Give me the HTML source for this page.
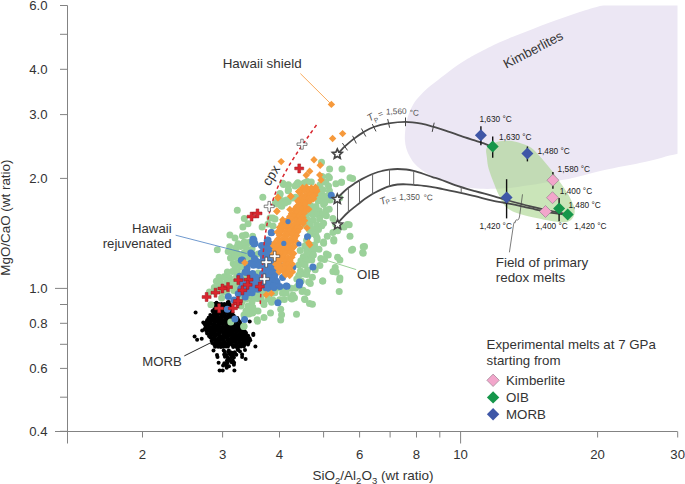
<!DOCTYPE html>
<html><head><meta charset="utf-8"><style>
html,body{margin:0;padding:0;background:#fff;}
body{width:685px;height:484px;overflow:hidden;font-family:"Liberation Sans", sans-serif;}
svg{display:block;}
</style></head><body>
<svg width="685" height="484" viewBox="0 0 685 484">
<defs><clipPath id="plot"><rect x="67.5" y="5.5" width="610" height="426"/></clipPath></defs>
<g clip-path="url(#plot)">
<path d="M404.9,140.0 C404.7,137.1 404.9,133.9 405.2,130.7 C405.5,127.5 406.0,123.7 406.7,120.6 C407.4,117.5 408.4,114.8 409.6,111.9 C410.8,109.0 412.2,105.9 413.9,103.2 C415.6,100.5 417.5,98.4 419.7,96.0 C421.9,93.6 424.5,91.0 426.9,88.8 C429.3,86.6 431.7,84.9 434.1,83.0 C436.5,81.1 438.9,79.1 441.4,77.2 C443.9,75.3 446.3,73.5 449.0,71.5 C451.7,69.5 454.6,67.2 457.8,65.1 C461.0,62.9 464.6,60.7 468.0,58.6 C471.4,56.5 473.3,55.4 478.5,52.7 C483.7,50.0 492.2,45.5 499.1,42.4 C506.0,39.3 511.8,37.3 520.0,34.1 C528.2,30.9 538.5,26.6 548.3,23.0 C558.1,19.4 569.8,15.3 579.0,12.3 C588.2,9.3 593.3,7.9 603.5,5.0 C613.7,2.1 623.9,-1.7 640.0,-5.0 C656.1,-8.3 685.0,-25.8 700.0,-15.0 C715.0,-4.2 726.7,32.8 730.0,60.0 C733.3,87.2 728.7,132.4 720.0,148.0 C711.3,163.6 690.4,151.4 678.0,153.7 C665.6,156.0 658.2,159.1 645.8,161.8 C633.4,164.6 615.3,167.6 603.5,170.2 C591.7,172.8 582.2,175.8 575.0,177.5 C567.8,179.2 565.3,179.4 560.0,180.3 C554.7,181.2 548.5,182.0 543.0,182.9 C537.5,183.8 532.2,184.8 527.0,185.6 C521.8,186.4 517.3,187.3 512.0,187.8 C506.7,188.3 500.3,188.6 495.0,188.8 C489.7,189.0 484.6,189.0 480.0,188.8 C475.4,188.6 471.7,188.2 467.2,187.5 C462.7,186.8 457.6,185.9 452.8,184.4 C448.0,182.9 442.4,180.3 438.3,178.6 C434.2,176.9 431.0,175.6 428.0,174.0 C425.0,172.4 422.8,170.8 420.5,169.0 C418.2,167.2 415.9,165.3 414.0,163.0 C412.1,160.7 410.3,157.5 409.0,155.0 C407.7,152.5 406.9,150.5 406.2,148.0 C405.5,145.5 405.1,142.9 404.9,140.0Z" fill="#ece7f4"/>
<path d="M486.9,147.7 C488.7,145.1 493.9,143.0 497.7,141.8 C501.5,140.7 505.9,140.6 509.5,140.8 C513.1,141.0 515.7,141.7 519.3,142.8 C522.9,144.0 527.5,145.2 531.1,147.7 C534.7,150.1 537.6,153.9 540.9,157.5 C544.2,161.1 547.4,165.1 550.7,169.3 C554.0,173.6 557.7,178.8 560.6,183.0 C563.5,187.2 566.2,190.9 568.4,194.8 C570.6,198.7 572.9,203.3 573.9,206.6 C574.9,209.9 574.9,212.2 574.3,214.5 C573.7,216.8 572.4,219.1 570.4,220.4 C568.4,221.7 566.1,222.3 562.5,222.3 C558.9,222.3 554.4,221.4 548.8,220.4 C543.2,219.4 534.7,217.7 529.1,216.4 C523.5,215.1 519.3,214.1 515.4,212.5 C511.5,210.9 508.3,209.5 505.5,206.6 C502.7,203.7 500.6,198.7 498.7,194.8 C496.8,190.9 495.4,187.2 493.8,183.0 C492.2,178.8 490.0,173.6 488.8,169.3 C487.6,165.1 487.2,161.1 486.9,157.5 C486.6,153.9 485.1,150.3 486.9,147.7Z" fill="#a6d48a" fill-opacity="0.6"/>
</g>
<g stroke="#838383" stroke-width="1" fill="none">
<line x1="67.5" y1="5.5" x2="67.5" y2="443.5"/>
<line x1="55" y1="431.5" x2="677.5" y2="431.5"/>
<line x1="60.0" y1="5.5" x2="67.5" y2="5.5"/>
<line x1="60.0" y1="34.3" x2="67.5" y2="34.3"/>
<line x1="60.0" y1="69.3" x2="67.5" y2="69.3"/>
<line x1="60.0" y1="114.6" x2="67.5" y2="114.6"/>
<line x1="60.0" y1="178.4" x2="67.5" y2="178.4"/>
<line x1="55.0" y1="288.4" x2="67.5" y2="288.4"/>
<line x1="60.0" y1="304.5" x2="67.5" y2="304.5"/>
<line x1="60.0" y1="323.3" x2="67.5" y2="323.3"/>
<line x1="60.0" y1="344.3" x2="67.5" y2="344.3"/>
<line x1="60.0" y1="368.4" x2="67.5" y2="368.4"/>
<line x1="60.0" y1="397.2" x2="67.5" y2="397.2"/>
<line x1="60.0" y1="431.3" x2="67.5" y2="431.3"/>
<line x1="142.5" y1="431.5" x2="142.5" y2="437.5"/>
<line x1="222.6" y1="431.5" x2="222.6" y2="437.5"/>
<line x1="279.5" y1="431.5" x2="279.5" y2="437.5"/>
<line x1="323.6" y1="431.5" x2="323.6" y2="437.5"/>
<line x1="359.6" y1="431.5" x2="359.6" y2="437.5"/>
<line x1="390.1" y1="431.5" x2="390.1" y2="437.5"/>
<line x1="416.5" y1="431.5" x2="416.5" y2="437.5"/>
<line x1="439.8" y1="431.5" x2="439.8" y2="437.5"/>
<line x1="460.6" y1="431.5" x2="460.6" y2="443.5"/>
<line x1="597.6" y1="431.5" x2="597.6" y2="437.5"/>
<line x1="677.7" y1="431.5" x2="677.7" y2="437.5"/>
</g>
<g font-family='"Liberation Sans", sans-serif' font-size="13.2" fill="#333" text-anchor="end">
<text x="47.5" y="10.1">6.0</text>
<text x="47.5" y="73.9">4.0</text>
<text x="47.5" y="119.2">3.0</text>
<text x="47.5" y="183.0">2.0</text>
<text x="47.5" y="293.0">1.0</text>
<text x="47.5" y="327.9">0.8</text>
<text x="47.5" y="373.0">0.6</text>
<text x="47.5" y="435.9">0.4</text>
</g>
<g font-family='"Liberation Sans", sans-serif' font-size="13.2" fill="#333" text-anchor="middle">
<text x="142.5" y="459.2">2</text>
<text x="222.6" y="459.2">3</text>
<text x="279.5" y="459.2">4</text>
<text x="359.6" y="459.2">6</text>
<text x="416.5" y="459.2">8</text>
<text x="460.6" y="459.2">10</text>
<text x="597.6" y="459.2">20</text>
<text x="677.7" y="459.2">30</text>
</g>
<text x="312.5" y="480.2" font-family='"Liberation Sans", sans-serif' font-size="13.5" fill="#333">SiO<tspan font-size="9.5" dy="3.8">2</tspan><tspan dy="-3.8">/Al</tspan><tspan font-size="9.5" dy="3.8">2</tspan><tspan dy="-3.8">O</tspan><tspan font-size="9.5" dy="3.8">3</tspan><tspan dy="-3.8"> (wt ratio)</tspan></text>
<text transform="translate(10.2,217.6) rotate(-90)" text-anchor="middle" font-family='"Liberation Sans", sans-serif' font-size="13.4" fill="#333">MgO/CaO (wt ratio)</text>
<g fill="#000">
<circle cx="228.8" cy="302.0" r="2"/>
<circle cx="214.3" cy="303.9" r="2"/>
<circle cx="216.4" cy="303.6" r="2"/>
<circle cx="218.8" cy="304.1" r="2"/>
<circle cx="221.5" cy="304.1" r="2"/>
<circle cx="224.3" cy="304.0" r="2"/>
<circle cx="227.5" cy="304.0" r="2"/>
<circle cx="229.7" cy="304.4" r="2"/>
<circle cx="215.4" cy="306.1" r="2"/>
<circle cx="218.3" cy="306.0" r="2"/>
<circle cx="220.0" cy="306.1" r="2"/>
<circle cx="223.0" cy="305.8" r="2"/>
<circle cx="225.4" cy="306.2" r="2"/>
<circle cx="228.4" cy="305.9" r="2"/>
<circle cx="230.8" cy="306.7" r="2"/>
<circle cx="214.4" cy="308.9" r="2"/>
<circle cx="216.5" cy="308.8" r="2"/>
<circle cx="219.6" cy="308.6" r="2"/>
<circle cx="221.9" cy="308.4" r="2"/>
<circle cx="224.5" cy="308.7" r="2"/>
<circle cx="226.6" cy="308.7" r="2"/>
<circle cx="230.1" cy="308.9" r="2"/>
<circle cx="212.5" cy="311.0" r="2"/>
<circle cx="215.0" cy="310.7" r="2"/>
<circle cx="218.2" cy="311.2" r="2"/>
<circle cx="220.9" cy="310.7" r="2"/>
<circle cx="223.2" cy="310.6" r="2"/>
<circle cx="225.3" cy="310.8" r="2"/>
<circle cx="228.6" cy="311.2" r="2"/>
<circle cx="231.1" cy="311.3" r="2"/>
<circle cx="213.6" cy="312.6" r="2"/>
<circle cx="216.7" cy="313.0" r="2"/>
<circle cx="219.3" cy="313.2" r="2"/>
<circle cx="222.1" cy="313.5" r="2"/>
<circle cx="224.6" cy="312.8" r="2"/>
<circle cx="227.0" cy="312.8" r="2"/>
<circle cx="229.1" cy="313.0" r="2"/>
<circle cx="232.4" cy="312.8" r="2"/>
<circle cx="210.3" cy="315.0" r="2"/>
<circle cx="212.9" cy="315.7" r="2"/>
<circle cx="215.4" cy="315.6" r="2"/>
<circle cx="217.6" cy="315.7" r="2"/>
<circle cx="221.0" cy="315.8" r="2"/>
<circle cx="223.1" cy="315.6" r="2"/>
<circle cx="225.5" cy="315.7" r="2"/>
<circle cx="228.7" cy="315.2" r="2"/>
<circle cx="230.5" cy="315.3" r="2"/>
<circle cx="233.6" cy="315.6" r="2"/>
<circle cx="208.6" cy="317.8" r="2"/>
<circle cx="211.5" cy="317.6" r="2"/>
<circle cx="214.3" cy="317.7" r="2"/>
<circle cx="216.4" cy="317.5" r="2"/>
<circle cx="219.5" cy="318.0" r="2"/>
<circle cx="221.5" cy="317.9" r="2"/>
<circle cx="224.9" cy="317.6" r="2"/>
<circle cx="227.1" cy="317.3" r="2"/>
<circle cx="229.6" cy="317.6" r="2"/>
<circle cx="232.3" cy="317.1" r="2"/>
<circle cx="235.3" cy="317.6" r="2"/>
<circle cx="237.3" cy="317.9" r="2"/>
<circle cx="207.2" cy="320.0" r="2"/>
<circle cx="210.5" cy="319.5" r="2"/>
<circle cx="213.0" cy="319.4" r="2"/>
<circle cx="215.0" cy="319.6" r="2"/>
<circle cx="218.1" cy="319.7" r="2"/>
<circle cx="220.4" cy="320.0" r="2"/>
<circle cx="222.7" cy="320.1" r="2"/>
<circle cx="225.3" cy="319.9" r="2"/>
<circle cx="228.1" cy="319.6" r="2"/>
<circle cx="230.9" cy="319.8" r="2"/>
<circle cx="233.4" cy="319.8" r="2"/>
<circle cx="236.1" cy="319.5" r="2"/>
<circle cx="238.4" cy="320.0" r="2"/>
<circle cx="203.3" cy="322.6" r="2"/>
<circle cx="206.6" cy="321.8" r="2"/>
<circle cx="208.5" cy="322.3" r="2"/>
<circle cx="211.2" cy="321.7" r="2"/>
<circle cx="214.3" cy="322.0" r="2"/>
<circle cx="216.9" cy="321.7" r="2"/>
<circle cx="219.1" cy="322.3" r="2"/>
<circle cx="221.3" cy="321.8" r="2"/>
<circle cx="224.6" cy="322.5" r="2"/>
<circle cx="227.5" cy="321.7" r="2"/>
<circle cx="229.6" cy="322.4" r="2"/>
<circle cx="232.2" cy="322.3" r="2"/>
<circle cx="234.5" cy="321.7" r="2"/>
<circle cx="237.0" cy="321.7" r="2"/>
<circle cx="240.1" cy="322.1" r="2"/>
<circle cx="204.7" cy="324.3" r="2"/>
<circle cx="207.5" cy="324.3" r="2"/>
<circle cx="210.2" cy="323.9" r="2"/>
<circle cx="212.9" cy="324.7" r="2"/>
<circle cx="215.0" cy="324.3" r="2"/>
<circle cx="218.1" cy="324.3" r="2"/>
<circle cx="220.2" cy="324.0" r="2"/>
<circle cx="223.1" cy="323.9" r="2"/>
<circle cx="226.1" cy="324.7" r="2"/>
<circle cx="228.5" cy="324.7" r="2"/>
<circle cx="231.0" cy="324.3" r="2"/>
<circle cx="233.6" cy="324.4" r="2"/>
<circle cx="236.6" cy="324.7" r="2"/>
<circle cx="238.5" cy="324.8" r="2"/>
<circle cx="241.5" cy="324.7" r="2"/>
<circle cx="205.7" cy="326.5" r="2"/>
<circle cx="208.9" cy="326.8" r="2"/>
<circle cx="211.1" cy="327.1" r="2"/>
<circle cx="214.2" cy="326.5" r="2"/>
<circle cx="216.8" cy="326.7" r="2"/>
<circle cx="219.2" cy="326.5" r="2"/>
<circle cx="222.3" cy="326.8" r="2"/>
<circle cx="224.6" cy="326.9" r="2"/>
<circle cx="227.5" cy="326.2" r="2"/>
<circle cx="229.7" cy="326.9" r="2"/>
<circle cx="232.0" cy="326.5" r="2"/>
<circle cx="234.4" cy="326.3" r="2"/>
<circle cx="237.3" cy="326.2" r="2"/>
<circle cx="239.8" cy="327.0" r="2"/>
<circle cx="242.7" cy="326.7" r="2"/>
<circle cx="204.6" cy="328.9" r="2"/>
<circle cx="207.2" cy="328.9" r="2"/>
<circle cx="210.2" cy="328.5" r="2"/>
<circle cx="213.1" cy="328.8" r="2"/>
<circle cx="215.3" cy="329.0" r="2"/>
<circle cx="217.8" cy="328.7" r="2"/>
<circle cx="220.7" cy="329.0" r="2"/>
<circle cx="222.9" cy="329.1" r="2"/>
<circle cx="225.5" cy="328.4" r="2"/>
<circle cx="228.0" cy="328.4" r="2"/>
<circle cx="230.6" cy="329.2" r="2"/>
<circle cx="233.4" cy="329.3" r="2"/>
<circle cx="236.3" cy="328.5" r="2"/>
<circle cx="239.2" cy="329.4" r="2"/>
<circle cx="240.9" cy="329.3" r="2"/>
<circle cx="243.8" cy="328.9" r="2"/>
<circle cx="206.3" cy="331.1" r="2"/>
<circle cx="208.5" cy="330.7" r="2"/>
<circle cx="211.4" cy="330.8" r="2"/>
<circle cx="213.9" cy="331.3" r="2"/>
<circle cx="216.6" cy="330.9" r="2"/>
<circle cx="219.3" cy="331.1" r="2"/>
<circle cx="222.1" cy="331.2" r="2"/>
<circle cx="224.9" cy="331.6" r="2"/>
<circle cx="227.2" cy="330.9" r="2"/>
<circle cx="229.2" cy="331.6" r="2"/>
<circle cx="232.5" cy="331.3" r="2"/>
<circle cx="234.7" cy="330.9" r="2"/>
<circle cx="237.6" cy="331.2" r="2"/>
<circle cx="240.1" cy="331.3" r="2"/>
<circle cx="242.9" cy="330.9" r="2"/>
<circle cx="244.9" cy="331.6" r="2"/>
<circle cx="207.1" cy="333.6" r="2"/>
<circle cx="210.2" cy="333.6" r="2"/>
<circle cx="212.6" cy="333.4" r="2"/>
<circle cx="215.0" cy="333.3" r="2"/>
<circle cx="218.1" cy="333.8" r="2"/>
<circle cx="220.1" cy="333.0" r="2"/>
<circle cx="223.4" cy="333.6" r="2"/>
<circle cx="226.0" cy="333.1" r="2"/>
<circle cx="228.2" cy="333.2" r="2"/>
<circle cx="231.2" cy="333.3" r="2"/>
<circle cx="233.7" cy="333.9" r="2"/>
<circle cx="235.9" cy="333.5" r="2"/>
<circle cx="238.9" cy="333.9" r="2"/>
<circle cx="241.2" cy="333.3" r="2"/>
<circle cx="243.5" cy="333.8" r="2"/>
<circle cx="246.1" cy="333.0" r="2"/>
<circle cx="209.0" cy="335.9" r="2"/>
<circle cx="211.2" cy="335.3" r="2"/>
<circle cx="213.9" cy="335.9" r="2"/>
<circle cx="216.5" cy="335.3" r="2"/>
<circle cx="219.4" cy="335.8" r="2"/>
<circle cx="222.2" cy="336.1" r="2"/>
<circle cx="224.8" cy="335.6" r="2"/>
<circle cx="227.3" cy="335.5" r="2"/>
<circle cx="229.4" cy="335.6" r="2"/>
<circle cx="232.6" cy="336.1" r="2"/>
<circle cx="234.5" cy="335.6" r="2"/>
<circle cx="237.3" cy="335.6" r="2"/>
<circle cx="239.9" cy="335.6" r="2"/>
<circle cx="242.3" cy="335.8" r="2"/>
<circle cx="245.5" cy="335.7" r="2"/>
<circle cx="248.1" cy="335.8" r="2"/>
<circle cx="210.4" cy="337.5" r="2"/>
<circle cx="212.7" cy="338.2" r="2"/>
<circle cx="214.9" cy="337.5" r="2"/>
<circle cx="218.1" cy="338.4" r="2"/>
<circle cx="220.1" cy="338.1" r="2"/>
<circle cx="222.7" cy="338.2" r="2"/>
<circle cx="225.8" cy="337.7" r="2"/>
<circle cx="228.0" cy="338.2" r="2"/>
<circle cx="230.9" cy="338.2" r="2"/>
<circle cx="233.4" cy="337.8" r="2"/>
<circle cx="236.6" cy="338.1" r="2"/>
<circle cx="238.7" cy="338.0" r="2"/>
<circle cx="241.5" cy="338.2" r="2"/>
<circle cx="244.3" cy="337.9" r="2"/>
<circle cx="246.8" cy="338.1" r="2"/>
<circle cx="249.5" cy="338.3" r="2"/>
<circle cx="211.6" cy="340.7" r="2"/>
<circle cx="213.9" cy="339.9" r="2"/>
<circle cx="216.3" cy="340.1" r="2"/>
<circle cx="219.0" cy="340.7" r="2"/>
<circle cx="221.4" cy="340.0" r="2"/>
<circle cx="224.0" cy="340.4" r="2"/>
<circle cx="227.3" cy="339.9" r="2"/>
<circle cx="229.2" cy="340.2" r="2"/>
<circle cx="232.3" cy="340.6" r="2"/>
<circle cx="234.3" cy="339.8" r="2"/>
<circle cx="237.1" cy="339.9" r="2"/>
<circle cx="239.7" cy="340.4" r="2"/>
<circle cx="242.7" cy="339.9" r="2"/>
<circle cx="244.9" cy="340.0" r="2"/>
<circle cx="247.5" cy="340.5" r="2"/>
<circle cx="250.2" cy="340.3" r="2"/>
<circle cx="212.2" cy="342.9" r="2"/>
<circle cx="215.6" cy="342.4" r="2"/>
<circle cx="217.9" cy="342.5" r="2"/>
<circle cx="220.3" cy="343.0" r="2"/>
<circle cx="223.3" cy="342.2" r="2"/>
<circle cx="225.2" cy="342.5" r="2"/>
<circle cx="228.2" cy="342.8" r="2"/>
<circle cx="231.1" cy="342.6" r="2"/>
<circle cx="233.2" cy="342.1" r="2"/>
<circle cx="235.9" cy="342.2" r="2"/>
<circle cx="239.1" cy="342.5" r="2"/>
<circle cx="241.4" cy="343.0" r="2"/>
<circle cx="243.7" cy="342.5" r="2"/>
<circle cx="246.2" cy="342.7" r="2"/>
<circle cx="248.6" cy="342.8" r="2"/>
<circle cx="214.3" cy="344.7" r="2"/>
<circle cx="217.0" cy="344.3" r="2"/>
<circle cx="219.5" cy="344.4" r="2"/>
<circle cx="221.8" cy="344.8" r="2"/>
<circle cx="224.1" cy="345.1" r="2"/>
<circle cx="226.8" cy="344.6" r="2"/>
<circle cx="229.2" cy="344.5" r="2"/>
<circle cx="232.2" cy="345.0" r="2"/>
<circle cx="234.7" cy="344.9" r="2"/>
<circle cx="237.0" cy="344.6" r="2"/>
<circle cx="240.0" cy="345.2" r="2"/>
<circle cx="242.9" cy="344.9" r="2"/>
<circle cx="244.7" cy="344.6" r="2"/>
<circle cx="248.0" cy="344.5" r="2"/>
<circle cx="215.1" cy="346.7" r="2"/>
<circle cx="218.1" cy="346.8" r="2"/>
<circle cx="220.9" cy="347.1" r="2"/>
<circle cx="223.3" cy="346.8" r="2"/>
<circle cx="226.0" cy="346.6" r="2"/>
<circle cx="227.9" cy="346.6" r="2"/>
<circle cx="233.2" cy="346.9" r="2"/>
<circle cx="236.4" cy="347.1" r="2"/>
<circle cx="238.3" cy="346.7" r="2"/>
<circle cx="241.0" cy="346.6" r="2"/>
<circle cx="243.8" cy="346.6" r="2"/>
<circle cx="237.9" cy="349.3" r="2"/>
<circle cx="224.9" cy="352.0" r="2"/>
<circle cx="228.3" cy="352.1" r="2"/>
<circle cx="231.2" cy="352.4" r="2"/>
<circle cx="234.8" cy="352.2" r="2"/>
<circle cx="226.3" cy="355.1" r="2"/>
<circle cx="229.4" cy="354.0" r="2"/>
<circle cx="233.1" cy="355.0" r="2"/>
<circle cx="236.3" cy="354.7" r="2"/>
<circle cx="224.9" cy="356.8" r="2"/>
<circle cx="227.5" cy="357.3" r="2"/>
<circle cx="231.2" cy="357.2" r="2"/>
<circle cx="233.9" cy="357.6" r="2"/>
<circle cx="226.9" cy="360.7" r="2"/>
<circle cx="229.8" cy="360.6" r="2"/>
<circle cx="232.7" cy="360.5" r="2"/>
<circle cx="224.3" cy="363.3" r="2"/>
<circle cx="227.5" cy="363.0" r="2"/>
<circle cx="231.7" cy="362.3" r="2"/>
<circle cx="234.1" cy="362.7" r="2"/>
<circle cx="223.1" cy="365.5" r="2"/>
<circle cx="226.5" cy="365.2" r="2"/>
<circle cx="229.0" cy="366.2" r="2"/>
<circle cx="216.5" cy="302.7" r="2"/>
<circle cx="227.8" cy="302.2" r="2"/>
<circle cx="195.6" cy="312.4" r="2"/>
<circle cx="249.7" cy="321.6" r="2"/>
<circle cx="253.3" cy="333.8" r="2"/>
<circle cx="194.6" cy="336.6" r="2"/>
<circle cx="197.1" cy="339.7" r="2"/>
<circle cx="201.7" cy="338.7" r="2"/>
<circle cx="202.2" cy="330.5" r="2"/>
<circle cx="255.4" cy="346.4" r="2"/>
<circle cx="253.3" cy="335.1" r="2"/>
<circle cx="217.0" cy="355.0" r="2"/>
<circle cx="217.5" cy="357.1" r="2"/>
<circle cx="224.2" cy="354.5" r="2"/>
<circle cx="232.4" cy="353.0" r="2"/>
<circle cx="230.8" cy="355.0" r="2"/>
<circle cx="242.1" cy="354.5" r="2"/>
<circle cx="245.6" cy="359.1" r="2"/>
<circle cx="218.6" cy="362.7" r="2"/>
<circle cx="228.3" cy="359.1" r="2"/>
<circle cx="232.9" cy="361.7" r="2"/>
<circle cx="225.7" cy="364.7" r="2"/>
<circle cx="233.9" cy="364.7" r="2"/>
<circle cx="219.6" cy="370.4" r="2"/>
<circle cx="222.7" cy="370.4" r="2"/>
<circle cx="226.7" cy="367.8" r="2"/>
<circle cx="234.4" cy="370.4" r="2"/>
<circle cx="242.1" cy="357.1" r="2"/>
<circle cx="240.0" cy="351.5" r="2"/>
<circle cx="213.5" cy="350.4" r="2"/>
<circle cx="223.7" cy="350.4" r="2"/>
<circle cx="228.8" cy="350.4" r="2"/>
<circle cx="238.0" cy="350.0" r="2"/>
<circle cx="245.0" cy="350.0" r="2"/>
</g>
<g fill="#9bd19a">
<circle cx="308.3" cy="189.9" r="3.5"/>
<circle cx="313.3" cy="190.4" r="3.5"/>
<circle cx="320.1" cy="190.1" r="3.5"/>
<circle cx="316.1" cy="195.3" r="3.5"/>
<circle cx="323.4" cy="196.1" r="3.5"/>
<circle cx="327.5" cy="196.1" r="3.5"/>
<circle cx="319.8" cy="200.1" r="3.5"/>
<circle cx="324.6" cy="201.3" r="3.5"/>
<circle cx="310.7" cy="205.6" r="3.5"/>
<circle cx="316.0" cy="206.4" r="3.5"/>
<circle cx="323.6" cy="204.4" r="3.5"/>
<circle cx="308.4" cy="209.6" r="3.5"/>
<circle cx="314.1" cy="210.7" r="3.5"/>
<circle cx="319.3" cy="210.7" r="3.5"/>
<circle cx="325.9" cy="210.4" r="3.5"/>
<circle cx="306.0" cy="215.3" r="3.5"/>
<circle cx="312.3" cy="214.4" r="3.5"/>
<circle cx="317.5" cy="214.4" r="3.5"/>
<circle cx="322.7" cy="214.6" r="3.5"/>
<circle cx="307.8" cy="220.1" r="3.5"/>
<circle cx="313.3" cy="220.3" r="3.5"/>
<circle cx="319.6" cy="219.0" r="3.5"/>
<circle cx="304.8" cy="224.1" r="3.5"/>
<circle cx="310.0" cy="225.0" r="3.5"/>
<circle cx="316.6" cy="224.8" r="3.5"/>
<circle cx="321.8" cy="225.7" r="3.5"/>
<circle cx="309.1" cy="229.2" r="3.5"/>
<circle cx="313.2" cy="229.4" r="3.5"/>
<circle cx="318.5" cy="229.4" r="3.5"/>
<circle cx="310.4" cy="234.1" r="3.5"/>
<circle cx="316.0" cy="235.2" r="3.5"/>
<circle cx="238.1" cy="243.7" r="3.5"/>
<circle cx="243.7" cy="243.5" r="3.5"/>
<circle cx="248.9" cy="242.5" r="3.5"/>
<circle cx="229.7" cy="246.7" r="3.5"/>
<circle cx="236.1" cy="247.4" r="3.5"/>
<circle cx="240.7" cy="246.6" r="3.5"/>
<circle cx="246.0" cy="247.2" r="3.5"/>
<circle cx="252.1" cy="248.8" r="3.5"/>
<circle cx="228.2" cy="251.5" r="3.5"/>
<circle cx="232.4" cy="252.3" r="3.5"/>
<circle cx="237.4" cy="253.5" r="3.5"/>
<circle cx="243.6" cy="253.3" r="3.5"/>
<circle cx="249.6" cy="251.5" r="3.5"/>
<circle cx="230.5" cy="257.9" r="3.5"/>
<circle cx="234.8" cy="256.8" r="3.5"/>
<circle cx="240.7" cy="258.0" r="3.5"/>
<circle cx="246.6" cy="257.2" r="3.5"/>
<circle cx="253.3" cy="256.8" r="3.5"/>
<circle cx="233.2" cy="263.4" r="3.5"/>
<circle cx="237.7" cy="262.8" r="3.5"/>
<circle cx="244.4" cy="263.5" r="3.5"/>
<circle cx="250.5" cy="261.7" r="3.5"/>
<circle cx="235.0" cy="266.3" r="3.5"/>
<circle cx="240.8" cy="267.0" r="3.5"/>
<circle cx="246.0" cy="267.4" r="3.5"/>
<circle cx="227.4" cy="272.0" r="3.5"/>
<circle cx="232.4" cy="271.5" r="3.5"/>
<circle cx="237.3" cy="271.7" r="3.5"/>
<circle cx="244.9" cy="272.3" r="3.5"/>
<circle cx="219.1" cy="277.3" r="3.5"/>
<circle cx="224.2" cy="276.8" r="3.5"/>
<circle cx="229.5" cy="277.8" r="3.5"/>
<circle cx="236.5" cy="276.7" r="3.5"/>
<circle cx="242.2" cy="275.9" r="3.5"/>
<circle cx="245.9" cy="277.0" r="3.5"/>
<circle cx="216.4" cy="281.2" r="3.5"/>
<circle cx="220.4" cy="282.0" r="3.5"/>
<circle cx="226.9" cy="281.2" r="3.5"/>
<circle cx="232.8" cy="282.2" r="3.5"/>
<circle cx="238.5" cy="282.1" r="3.5"/>
<circle cx="214.3" cy="287.5" r="3.5"/>
<circle cx="218.0" cy="287.0" r="3.5"/>
<circle cx="224.4" cy="286.9" r="3.5"/>
<circle cx="229.7" cy="286.2" r="3.5"/>
<circle cx="236.2" cy="286.8" r="3.5"/>
<circle cx="240.6" cy="286.1" r="3.5"/>
<circle cx="209.4" cy="292.1" r="3.5"/>
<circle cx="215.1" cy="291.5" r="3.5"/>
<circle cx="222.3" cy="291.5" r="3.5"/>
<circle cx="226.4" cy="292.5" r="3.5"/>
<circle cx="233.7" cy="290.5" r="3.5"/>
<circle cx="262.3" cy="289.5" r="3.5"/>
<circle cx="268.8" cy="288.6" r="3.5"/>
<circle cx="273.7" cy="289.0" r="3.5"/>
<circle cx="279.5" cy="288.0" r="3.5"/>
<circle cx="283.6" cy="287.9" r="3.5"/>
<circle cx="291.0" cy="288.3" r="3.5"/>
<circle cx="295.6" cy="288.0" r="3.5"/>
<circle cx="253.8" cy="292.9" r="3.5"/>
<circle cx="259.5" cy="293.2" r="3.5"/>
<circle cx="264.1" cy="293.7" r="3.5"/>
<circle cx="270.1" cy="293.2" r="3.5"/>
<circle cx="274.9" cy="292.7" r="3.5"/>
<circle cx="282.5" cy="293.3" r="3.5"/>
<circle cx="286.2" cy="293.0" r="3.5"/>
<circle cx="292.8" cy="294.9" r="3.5"/>
<circle cx="257.1" cy="298.4" r="3.5"/>
<circle cx="260.9" cy="298.7" r="3.5"/>
<circle cx="268.0" cy="298.9" r="3.5"/>
<circle cx="272.7" cy="299.7" r="3.5"/>
<circle cx="279.7" cy="299.8" r="3.5"/>
<circle cx="284.3" cy="299.4" r="3.5"/>
<circle cx="290.5" cy="297.8" r="3.5"/>
<circle cx="294.5" cy="297.8" r="3.5"/>
<circle cx="263.6" cy="302.8" r="3.5"/>
<circle cx="271.5" cy="302.3" r="3.5"/>
<circle cx="306.6" cy="240.3" r="3.5"/>
<circle cx="304.8" cy="245.9" r="3.5"/>
<circle cx="310.2" cy="245.0" r="3.5"/>
<circle cx="314.5" cy="244.9" r="3.5"/>
<circle cx="300.2" cy="250.6" r="3.5"/>
<circle cx="306.8" cy="250.2" r="3.5"/>
<circle cx="312.7" cy="251.7" r="3.5"/>
<circle cx="303.3" cy="256.7" r="3.5"/>
<circle cx="309.6" cy="256.6" r="3.5"/>
<circle cx="300.9" cy="260.8" r="3.5"/>
<circle cx="308.1" cy="259.9" r="3.5"/>
<circle cx="311.8" cy="260.0" r="3.5"/>
<circle cx="298.9" cy="264.9" r="3.5"/>
<circle cx="304.5" cy="264.5" r="3.5"/>
<circle cx="300.5" cy="270.9" r="3.5"/>
<circle cx="307.5" cy="270.0" r="3.5"/>
<circle cx="298.8" cy="275.2" r="3.5"/>
<circle cx="304.2" cy="273.9" r="3.5"/>
<circle cx="296.8" cy="279.0" r="3.5"/>
<circle cx="301.3" cy="281.0" r="3.5"/>
<circle cx="297.7" cy="285.9" r="3.5"/>
<circle cx="241.0" cy="297.0" r="3.5"/>
<circle cx="245.0" cy="296.0" r="3.5"/>
<circle cx="250.0" cy="296.0" r="3.5"/>
<circle cx="255.0" cy="298.0" r="3.5"/>
<circle cx="241.0" cy="306.0" r="3.5"/>
<circle cx="246.0" cy="299.0" r="3.5"/>
<circle cx="252.0" cy="309.0" r="3.5"/>
<circle cx="258.0" cy="311.0" r="3.5"/>
<circle cx="244.0" cy="315.0" r="3.5"/>
<circle cx="249.0" cy="314.0" r="3.5"/>
<circle cx="242.0" cy="302.0" r="3.5"/>
<circle cx="248.0" cy="306.0" r="3.5"/>
<circle cx="252.0" cy="302.0" r="3.5"/>
<circle cx="246.0" cy="311.0" r="3.5"/>
<circle cx="283.6" cy="184.4" r="3.5"/>
<circle cx="288.2" cy="185.3" r="3.5"/>
<circle cx="297.3" cy="184.4" r="3.5"/>
<circle cx="303.6" cy="183.5" r="3.5"/>
<circle cx="307.3" cy="181.6" r="3.5"/>
<circle cx="288.2" cy="190.7" r="3.5"/>
<circle cx="280.0" cy="193.5" r="3.5"/>
<circle cx="282.7" cy="200.7" r="3.5"/>
<circle cx="279.1" cy="202.5" r="3.5"/>
<circle cx="281.8" cy="206.2" r="3.5"/>
<circle cx="275.5" cy="202.5" r="3.5"/>
<circle cx="288.2" cy="201.6" r="3.5"/>
<circle cx="292.7" cy="198.0" r="3.5"/>
<circle cx="272.7" cy="218.0" r="3.5"/>
<circle cx="258.0" cy="254.0" r="3.5"/>
<circle cx="253.0" cy="261.0" r="3.5"/>
<circle cx="258.0" cy="273.0" r="3.5"/>
<circle cx="321.5" cy="162.2" r="3.5"/>
<circle cx="329.6" cy="169.0" r="3.5"/>
<circle cx="342.0" cy="169.0" r="3.5"/>
<circle cx="328.3" cy="176.4" r="3.5"/>
<circle cx="322.1" cy="176.4" r="3.5"/>
<circle cx="350.0" cy="177.7" r="3.5"/>
<circle cx="311.3" cy="181.9" r="3.5"/>
<circle cx="304.8" cy="182.8" r="3.5"/>
<circle cx="297.8" cy="182.8" r="3.5"/>
<circle cx="329.4" cy="177.7" r="3.5"/>
<circle cx="325.7" cy="182.3" r="3.5"/>
<circle cx="335.9" cy="183.7" r="3.5"/>
<circle cx="341.5" cy="182.3" r="3.5"/>
<circle cx="320.1" cy="184.7" r="3.5"/>
<circle cx="328.5" cy="186.0" r="3.5"/>
<circle cx="322.9" cy="189.8" r="3.5"/>
<circle cx="329.4" cy="190.7" r="3.5"/>
<circle cx="320.1" cy="193.5" r="3.5"/>
<circle cx="322.9" cy="197.2" r="3.5"/>
<circle cx="329.4" cy="199.1" r="3.5"/>
<circle cx="318.3" cy="200.9" r="3.5"/>
<circle cx="324.8" cy="202.8" r="3.5"/>
<circle cx="339.7" cy="198.1" r="3.5"/>
<circle cx="295.0" cy="186.0" r="3.5"/>
<circle cx="262.8" cy="197.2" r="3.5"/>
<circle cx="282.8" cy="183.3" r="3.5"/>
<circle cx="288.4" cy="184.7" r="3.5"/>
<circle cx="296.7" cy="184.2" r="3.5"/>
<circle cx="288.4" cy="189.8" r="3.5"/>
<circle cx="280.0" cy="194.4" r="3.5"/>
<circle cx="286.5" cy="200.0" r="3.5"/>
<circle cx="279.1" cy="200.9" r="3.5"/>
<circle cx="295.8" cy="197.2" r="3.5"/>
<circle cx="270.0" cy="218.0" r="3.5"/>
<circle cx="275.0" cy="219.0" r="3.5"/>
<circle cx="268.0" cy="224.0" r="3.5"/>
<circle cx="273.0" cy="226.0" r="3.5"/>
<circle cx="262.1" cy="227.0" r="3.5"/>
<circle cx="276.0" cy="203.7" r="3.5"/>
<circle cx="280.7" cy="205.6" r="3.5"/>
<circle cx="285.0" cy="203.0" r="3.5"/>
<circle cx="330.1" cy="200.0" r="3.5"/>
<circle cx="329.2" cy="209.3" r="3.5"/>
<circle cx="326.4" cy="215.8" r="3.5"/>
<circle cx="323.6" cy="223.3" r="3.5"/>
<circle cx="332.9" cy="218.6" r="3.5"/>
<circle cx="335.7" cy="224.2" r="3.5"/>
<circle cx="344.1" cy="227.0" r="3.5"/>
<circle cx="349.2" cy="224.7" r="3.5"/>
<circle cx="337.6" cy="230.7" r="3.5"/>
<circle cx="332.9" cy="232.6" r="3.5"/>
<circle cx="327.3" cy="236.3" r="3.5"/>
<circle cx="333.8" cy="239.5" r="3.5"/>
<circle cx="323.6" cy="241.9" r="3.5"/>
<circle cx="317.1" cy="238.1" r="3.5"/>
<circle cx="237.3" cy="210.2" r="3.5"/>
<circle cx="244.3" cy="218.6" r="3.5"/>
<circle cx="248.0" cy="223.7" r="3.5"/>
<circle cx="242.9" cy="227.0" r="3.5"/>
<circle cx="229.9" cy="234.9" r="3.5"/>
<circle cx="235.0" cy="238.1" r="3.5"/>
<circle cx="242.4" cy="235.8" r="3.5"/>
<circle cx="245.7" cy="234.9" r="3.5"/>
<circle cx="244.3" cy="241.9" r="3.5"/>
<circle cx="252.7" cy="236.3" r="3.5"/>
<circle cx="323.6" cy="243.3" r="3.5"/>
<circle cx="333.8" cy="240.9" r="3.5"/>
<circle cx="317.1" cy="240.0" r="3.5"/>
<circle cx="351.5" cy="250.2" r="3.5"/>
<circle cx="362.7" cy="252.6" r="3.5"/>
<circle cx="364.5" cy="246.5" r="3.5"/>
<circle cx="319.0" cy="249.3" r="3.5"/>
<circle cx="314.3" cy="249.3" r="3.5"/>
<circle cx="307.8" cy="249.3" r="3.5"/>
<circle cx="313.4" cy="254.9" r="3.5"/>
<circle cx="306.9" cy="253.0" r="3.5"/>
<circle cx="326.4" cy="254.0" r="3.5"/>
<circle cx="328.3" cy="254.9" r="3.5"/>
<circle cx="320.8" cy="258.6" r="3.5"/>
<circle cx="324.5" cy="259.5" r="3.5"/>
<circle cx="337.6" cy="257.2" r="3.5"/>
<circle cx="339.9" cy="260.0" r="3.5"/>
<circle cx="305.9" cy="260.5" r="3.5"/>
<circle cx="305.0" cy="265.1" r="3.5"/>
<circle cx="319.9" cy="265.6" r="3.5"/>
<circle cx="315.2" cy="269.8" r="3.5"/>
<circle cx="335.2" cy="267.4" r="3.5"/>
<circle cx="336.2" cy="272.1" r="3.5"/>
<circle cx="332.9" cy="271.6" r="3.5"/>
<circle cx="339.9" cy="278.1" r="3.5"/>
<circle cx="322.7" cy="280.9" r="3.5"/>
<circle cx="306.9" cy="274.4" r="3.5"/>
<circle cx="312.4" cy="277.2" r="3.5"/>
<circle cx="308.7" cy="281.9" r="3.5"/>
<circle cx="264.0" cy="304.5" r="3.5"/>
<circle cx="252.8" cy="307.3" r="3.5"/>
<circle cx="252.8" cy="312.9" r="3.5"/>
<circle cx="270.5" cy="312.9" r="3.5"/>
<circle cx="280.7" cy="309.2" r="3.5"/>
<circle cx="281.6" cy="314.8" r="3.5"/>
<circle cx="280.7" cy="319.9" r="3.5"/>
<circle cx="264.0" cy="317.6" r="3.5"/>
<circle cx="257.4" cy="321.3" r="3.5"/>
<circle cx="296.5" cy="314.3" r="3.5"/>
<circle cx="304.9" cy="299.4" r="3.5"/>
<circle cx="291.9" cy="299.0" r="3.5"/>
<circle cx="302.1" cy="291.5" r="3.5"/>
<circle cx="309.5" cy="303.6" r="3.5"/>
<circle cx="322.7" cy="281.0" r="3.5"/>
<circle cx="339.7" cy="280.0" r="3.5"/>
<circle cx="339.2" cy="291.4" r="3.5"/>
<circle cx="310.3" cy="283.6" r="3.5"/>
<circle cx="303.1" cy="290.3" r="3.5"/>
<circle cx="307.2" cy="292.4" r="3.5"/>
<circle cx="304.6" cy="299.1" r="3.5"/>
<circle cx="312.4" cy="304.3" r="3.5"/>
<circle cx="210.9" cy="304.7" r="3.5"/>
<circle cx="221.6" cy="298.1" r="3.5"/>
<circle cx="230.8" cy="322.1" r="3.5"/>
<circle cx="244.1" cy="326.2" r="3.5"/>
<circle cx="217.3" cy="249.8" r="3.5"/>
<circle cx="341.4" cy="182.3" r="3.5"/>
<circle cx="352.6" cy="178.4" r="3.5"/>
<circle cx="347.4" cy="224.4" r="3.5"/>
<circle cx="350.0" cy="236.2" r="3.5"/>
<circle cx="363.2" cy="246.7" r="3.5"/>
<circle cx="363.2" cy="253.3" r="3.5"/>
<circle cx="352.6" cy="249.3" r="3.5"/>
<circle cx="243.7" cy="326.5" r="3.5"/>
<circle cx="257.1" cy="319.8" r="3.5"/>
</g>
<g fill="#4a7fc4">
<circle cx="261.5" cy="245.4" r="3.5"/>
<circle cx="265.0" cy="245.3" r="3.5"/>
<circle cx="270.0" cy="244.2" r="3.5"/>
<circle cx="263.6" cy="248.8" r="3.5"/>
<circle cx="267.5" cy="248.9" r="3.5"/>
<circle cx="271.8" cy="249.2" r="3.5"/>
<circle cx="261.2" cy="252.9" r="3.5"/>
<circle cx="266.2" cy="252.8" r="3.5"/>
<circle cx="270.5" cy="253.2" r="3.5"/>
<circle cx="263.3" cy="257.1" r="3.5"/>
<circle cx="267.2" cy="257.6" r="3.5"/>
<circle cx="271.7" cy="256.8" r="3.5"/>
<circle cx="256.6" cy="261.2" r="3.5"/>
<circle cx="261.7" cy="261.8" r="3.5"/>
<circle cx="266.3" cy="260.8" r="3.5"/>
<circle cx="270.6" cy="261.2" r="3.5"/>
<circle cx="253.5" cy="265.3" r="3.5"/>
<circle cx="258.8" cy="265.4" r="3.5"/>
<circle cx="262.8" cy="265.5" r="3.5"/>
<circle cx="268.2" cy="265.5" r="3.5"/>
<circle cx="271.8" cy="265.0" r="3.5"/>
<circle cx="276.2" cy="265.6" r="3.5"/>
<circle cx="265.5" cy="268.7" r="3.5"/>
<circle cx="270.5" cy="268.6" r="3.5"/>
<circle cx="274.6" cy="268.3" r="3.5"/>
<circle cx="262.6" cy="273.5" r="3.5"/>
<circle cx="268.2" cy="273.4" r="3.5"/>
<circle cx="271.9" cy="273.1" r="3.5"/>
<circle cx="276.2" cy="272.4" r="3.5"/>
<circle cx="251.1" cy="277.7" r="3.5"/>
<circle cx="256.0" cy="277.0" r="3.5"/>
<circle cx="261.1" cy="277.6" r="3.5"/>
<circle cx="266.2" cy="277.1" r="3.5"/>
<circle cx="270.1" cy="277.7" r="3.5"/>
<circle cx="274.5" cy="276.7" r="3.5"/>
<circle cx="248.7" cy="281.1" r="3.5"/>
<circle cx="254.1" cy="280.9" r="3.5"/>
<circle cx="258.2" cy="280.4" r="3.5"/>
<circle cx="263.0" cy="280.7" r="3.5"/>
<circle cx="267.8" cy="280.6" r="3.5"/>
<circle cx="272.8" cy="281.0" r="3.5"/>
<circle cx="276.2" cy="280.9" r="3.5"/>
<circle cx="242.3" cy="285.2" r="3.5"/>
<circle cx="246.9" cy="284.7" r="3.5"/>
<circle cx="251.9" cy="285.2" r="3.5"/>
<circle cx="256.0" cy="285.0" r="3.5"/>
<circle cx="260.9" cy="285.4" r="3.5"/>
<circle cx="264.8" cy="284.4" r="3.5"/>
<circle cx="269.7" cy="284.7" r="3.5"/>
<circle cx="240.7" cy="288.7" r="3.5"/>
<circle cx="244.5" cy="289.5" r="3.5"/>
<circle cx="249.9" cy="289.3" r="3.5"/>
<circle cx="253.3" cy="289.4" r="3.5"/>
<circle cx="257.9" cy="289.2" r="3.5"/>
<circle cx="268.0" cy="288.3" r="3.5"/>
<circle cx="238.2" cy="293.8" r="3.5"/>
<circle cx="243.2" cy="292.3" r="3.5"/>
<circle cx="247.6" cy="292.9" r="3.5"/>
<circle cx="252.1" cy="292.8" r="3.5"/>
<circle cx="253.0" cy="239.3" r="3.5"/>
<circle cx="254.1" cy="243.9" r="3.5"/>
<circle cx="251.8" cy="254.1" r="3.5"/>
<circle cx="245.0" cy="272.3" r="3.5"/>
<circle cx="240.5" cy="279.1" r="3.5"/>
<circle cx="253.2" cy="239.4" r="3.5"/>
<circle cx="254.9" cy="243.6" r="3.5"/>
<circle cx="271.4" cy="232.8" r="3.5"/>
<circle cx="267.3" cy="240.2" r="3.5"/>
<circle cx="269.8" cy="247.7" r="3.5"/>
<circle cx="283.8" cy="242.7" r="3.5"/>
<circle cx="287.9" cy="221.2" r="3.5"/>
<circle cx="271.3" cy="232.4" r="3.5"/>
<circle cx="253.9" cy="239.9" r="3.5"/>
<circle cx="268.0" cy="239.9" r="3.5"/>
<circle cx="283.7" cy="242.4" r="3.5"/>
<circle cx="299.4" cy="282.0" r="3.5"/>
<circle cx="287.0" cy="286.2" r="3.5"/>
<circle cx="277.9" cy="302.7" r="3.5"/>
<circle cx="273.8" cy="287.8" r="3.5"/>
<circle cx="241.3" cy="260.2" r="3.5"/>
<circle cx="331.3" cy="195.2" r="3.5"/>
<circle cx="288.1" cy="221.4" r="3.5"/>
<circle cx="284.0" cy="242.3" r="3.5"/>
<circle cx="307.5" cy="236.8" r="3.5"/>
<circle cx="312.9" cy="267.0" r="3.5"/>
<circle cx="300.0" cy="282.6" r="3.5"/>
<circle cx="277.0" cy="282.2" r="3.5"/>
<circle cx="286.3" cy="285.9" r="3.5"/>
<circle cx="273.3" cy="285.9" r="3.5"/>
<circle cx="282.6" cy="277.6" r="3.5"/>
<circle cx="292.8" cy="267.3" r="3.5"/>
<circle cx="279.8" cy="286.4" r="3.5"/>
<circle cx="265.8" cy="287.8" r="3.5"/>
<circle cx="250.9" cy="288.7" r="3.5"/>
<circle cx="299.3" cy="285.0" r="3.5"/>
<circle cx="228.3" cy="296.5" r="3.5"/>
<circle cx="227.3" cy="309.3" r="3.5"/>
<circle cx="234.9" cy="319.0" r="3.5"/>
<circle cx="244.6" cy="319.5" r="3.5"/>
<circle cx="233.9" cy="300.1" r="3.5"/>
<circle cx="245.1" cy="297.0" r="3.5"/>
<circle cx="252.7" cy="241.9" r="3.5"/>
<circle cx="250.8" cy="253.0" r="3.5"/>
<circle cx="242.4" cy="260.0" r="3.5"/>
<circle cx="250.8" cy="263.3" r="3.5"/>
<circle cx="254.5" cy="258.6" r="3.5"/>
<circle cx="247.1" cy="267.9" r="3.5"/>
<circle cx="247.1" cy="272.6" r="3.5"/>
<circle cx="239.7" cy="276.3" r="3.5"/>
<circle cx="252.7" cy="273.5" r="3.5"/>
<circle cx="241.5" cy="280.9" r="3.5"/>
<circle cx="276.0" cy="262.0" r="3.5"/>
<circle cx="280.0" cy="265.0" r="3.5"/>
</g>
<g fill="#f6993b">
<path d="M302.6,184.0l3.7,3.7l-3.7,3.7l-3.7,-3.7z"/>
<path d="M306.5,183.5l3.7,3.7l-3.7,3.7l-3.7,-3.7z"/>
<path d="M311.4,184.3l3.7,3.7l-3.7,3.7l-3.7,-3.7z"/>
<path d="M315.5,183.5l3.7,3.7l-3.7,3.7l-3.7,-3.7z"/>
<path d="M300.7,187.3l3.7,3.7l-3.7,3.7l-3.7,-3.7z"/>
<path d="M304.3,187.0l3.7,3.7l-3.7,3.7l-3.7,-3.7z"/>
<path d="M308.8,187.3l3.7,3.7l-3.7,3.7l-3.7,-3.7z"/>
<path d="M312.8,187.3l3.7,3.7l-3.7,3.7l-3.7,-3.7z"/>
<path d="M316.8,187.6l3.7,3.7l-3.7,3.7l-3.7,-3.7z"/>
<path d="M302.0,191.8l3.7,3.7l-3.7,3.7l-3.7,-3.7z"/>
<path d="M306.5,191.6l3.7,3.7l-3.7,3.7l-3.7,-3.7z"/>
<path d="M310.6,191.2l3.7,3.7l-3.7,3.7l-3.7,-3.7z"/>
<path d="M314.9,191.5l3.7,3.7l-3.7,3.7l-3.7,-3.7z"/>
<path d="M300.8,194.4l3.7,3.7l-3.7,3.7l-3.7,-3.7z"/>
<path d="M304.8,194.4l3.7,3.7l-3.7,3.7l-3.7,-3.7z"/>
<path d="M308.2,195.0l3.7,3.7l-3.7,3.7l-3.7,-3.7z"/>
<path d="M313.6,195.1l3.7,3.7l-3.7,3.7l-3.7,-3.7z"/>
<path d="M298.9,198.6l3.7,3.7l-3.7,3.7l-3.7,-3.7z"/>
<path d="M302.1,198.3l3.7,3.7l-3.7,3.7l-3.7,-3.7z"/>
<path d="M306.5,198.8l3.7,3.7l-3.7,3.7l-3.7,-3.7z"/>
<path d="M296.6,202.8l3.7,3.7l-3.7,3.7l-3.7,-3.7z"/>
<path d="M299.8,201.7l3.7,3.7l-3.7,3.7l-3.7,-3.7z"/>
<path d="M305.0,202.5l3.7,3.7l-3.7,3.7l-3.7,-3.7z"/>
<path d="M289.9,205.7l3.7,3.7l-3.7,3.7l-3.7,-3.7z"/>
<path d="M294.3,205.8l3.7,3.7l-3.7,3.7l-3.7,-3.7z"/>
<path d="M298.0,206.3l3.7,3.7l-3.7,3.7l-3.7,-3.7z"/>
<path d="M302.1,205.5l3.7,3.7l-3.7,3.7l-3.7,-3.7z"/>
<path d="M306.4,205.9l3.7,3.7l-3.7,3.7l-3.7,-3.7z"/>
<path d="M291.5,209.8l3.7,3.7l-3.7,3.7l-3.7,-3.7z"/>
<path d="M295.9,209.2l3.7,3.7l-3.7,3.7l-3.7,-3.7z"/>
<path d="M300.3,210.1l3.7,3.7l-3.7,3.7l-3.7,-3.7z"/>
<path d="M304.4,209.4l3.7,3.7l-3.7,3.7l-3.7,-3.7z"/>
<path d="M289.8,212.7l3.7,3.7l-3.7,3.7l-3.7,-3.7z"/>
<path d="M294.6,212.8l3.7,3.7l-3.7,3.7l-3.7,-3.7z"/>
<path d="M297.9,213.6l3.7,3.7l-3.7,3.7l-3.7,-3.7z"/>
<path d="M303.1,213.7l3.7,3.7l-3.7,3.7l-3.7,-3.7z"/>
<path d="M283.3,217.4l3.7,3.7l-3.7,3.7l-3.7,-3.7z"/>
<path d="M287.3,216.5l3.7,3.7l-3.7,3.7l-3.7,-3.7z"/>
<path d="M291.8,216.3l3.7,3.7l-3.7,3.7l-3.7,-3.7z"/>
<path d="M296.0,216.5l3.7,3.7l-3.7,3.7l-3.7,-3.7z"/>
<path d="M299.9,216.9l3.7,3.7l-3.7,3.7l-3.7,-3.7z"/>
<path d="M304.6,216.9l3.7,3.7l-3.7,3.7l-3.7,-3.7z"/>
<path d="M281.6,220.2l3.7,3.7l-3.7,3.7l-3.7,-3.7z"/>
<path d="M286.1,221.1l3.7,3.7l-3.7,3.7l-3.7,-3.7z"/>
<path d="M289.9,220.6l3.7,3.7l-3.7,3.7l-3.7,-3.7z"/>
<path d="M294.5,220.5l3.7,3.7l-3.7,3.7l-3.7,-3.7z"/>
<path d="M297.9,221.0l3.7,3.7l-3.7,3.7l-3.7,-3.7z"/>
<path d="M303.1,219.9l3.7,3.7l-3.7,3.7l-3.7,-3.7z"/>
<path d="M279.4,223.8l3.7,3.7l-3.7,3.7l-3.7,-3.7z"/>
<path d="M283.0,223.9l3.7,3.7l-3.7,3.7l-3.7,-3.7z"/>
<path d="M287.2,223.9l3.7,3.7l-3.7,3.7l-3.7,-3.7z"/>
<path d="M292.1,224.0l3.7,3.7l-3.7,3.7l-3.7,-3.7z"/>
<path d="M296.2,224.3l3.7,3.7l-3.7,3.7l-3.7,-3.7z"/>
<path d="M300.2,224.0l3.7,3.7l-3.7,3.7l-3.7,-3.7z"/>
<path d="M277.3,228.4l3.7,3.7l-3.7,3.7l-3.7,-3.7z"/>
<path d="M281.2,227.4l3.7,3.7l-3.7,3.7l-3.7,-3.7z"/>
<path d="M286.0,227.5l3.7,3.7l-3.7,3.7l-3.7,-3.7z"/>
<path d="M290.0,227.4l3.7,3.7l-3.7,3.7l-3.7,-3.7z"/>
<path d="M294.6,227.5l3.7,3.7l-3.7,3.7l-3.7,-3.7z"/>
<path d="M297.8,228.0l3.7,3.7l-3.7,3.7l-3.7,-3.7z"/>
<path d="M279.4,231.6l3.7,3.7l-3.7,3.7l-3.7,-3.7z"/>
<path d="M284.2,231.2l3.7,3.7l-3.7,3.7l-3.7,-3.7z"/>
<path d="M287.7,231.0l3.7,3.7l-3.7,3.7l-3.7,-3.7z"/>
<path d="M292.4,231.1l3.7,3.7l-3.7,3.7l-3.7,-3.7z"/>
<path d="M296.6,231.8l3.7,3.7l-3.7,3.7l-3.7,-3.7z"/>
<path d="M277.7,235.5l3.7,3.7l-3.7,3.7l-3.7,-3.7z"/>
<path d="M282.1,235.6l3.7,3.7l-3.7,3.7l-3.7,-3.7z"/>
<path d="M285.9,235.5l3.7,3.7l-3.7,3.7l-3.7,-3.7z"/>
<path d="M290.2,235.5l3.7,3.7l-3.7,3.7l-3.7,-3.7z"/>
<path d="M294.5,234.7l3.7,3.7l-3.7,3.7l-3.7,-3.7z"/>
<path d="M274.7,239.3l3.7,3.7l-3.7,3.7l-3.7,-3.7z"/>
<path d="M279.8,238.5l3.7,3.7l-3.7,3.7l-3.7,-3.7z"/>
<path d="M283.2,239.0l3.7,3.7l-3.7,3.7l-3.7,-3.7z"/>
<path d="M288.1,239.3l3.7,3.7l-3.7,3.7l-3.7,-3.7z"/>
<path d="M292.1,238.3l3.7,3.7l-3.7,3.7l-3.7,-3.7z"/>
<path d="M296.5,238.2l3.7,3.7l-3.7,3.7l-3.7,-3.7z"/>
<path d="M273.5,242.1l3.7,3.7l-3.7,3.7l-3.7,-3.7z"/>
<path d="M277.5,242.7l3.7,3.7l-3.7,3.7l-3.7,-3.7z"/>
<path d="M281.7,242.4l3.7,3.7l-3.7,3.7l-3.7,-3.7z"/>
<path d="M285.5,242.1l3.7,3.7l-3.7,3.7l-3.7,-3.7z"/>
<path d="M289.5,242.6l3.7,3.7l-3.7,3.7l-3.7,-3.7z"/>
<path d="M294.3,242.9l3.7,3.7l-3.7,3.7l-3.7,-3.7z"/>
<path d="M275.2,246.0l3.7,3.7l-3.7,3.7l-3.7,-3.7z"/>
<path d="M279.7,245.8l3.7,3.7l-3.7,3.7l-3.7,-3.7z"/>
<path d="M283.2,246.2l3.7,3.7l-3.7,3.7l-3.7,-3.7z"/>
<path d="M287.5,245.9l3.7,3.7l-3.7,3.7l-3.7,-3.7z"/>
<path d="M291.5,245.5l3.7,3.7l-3.7,3.7l-3.7,-3.7z"/>
<path d="M273.3,250.3l3.7,3.7l-3.7,3.7l-3.7,-3.7z"/>
<path d="M277.8,249.4l3.7,3.7l-3.7,3.7l-3.7,-3.7z"/>
<path d="M281.5,250.3l3.7,3.7l-3.7,3.7l-3.7,-3.7z"/>
<path d="M285.7,249.4l3.7,3.7l-3.7,3.7l-3.7,-3.7z"/>
<path d="M290.2,249.2l3.7,3.7l-3.7,3.7l-3.7,-3.7z"/>
<path d="M293.7,249.8l3.7,3.7l-3.7,3.7l-3.7,-3.7z"/>
<path d="M274.7,253.1l3.7,3.7l-3.7,3.7l-3.7,-3.7z"/>
<path d="M279.6,253.3l3.7,3.7l-3.7,3.7l-3.7,-3.7z"/>
<path d="M283.2,253.3l3.7,3.7l-3.7,3.7l-3.7,-3.7z"/>
<path d="M287.9,253.7l3.7,3.7l-3.7,3.7l-3.7,-3.7z"/>
<path d="M291.9,253.6l3.7,3.7l-3.7,3.7l-3.7,-3.7z"/>
<path d="M277.1,257.6l3.7,3.7l-3.7,3.7l-3.7,-3.7z"/>
<path d="M281.0,256.8l3.7,3.7l-3.7,3.7l-3.7,-3.7z"/>
<path d="M285.4,257.5l3.7,3.7l-3.7,3.7l-3.7,-3.7z"/>
<path d="M289.9,256.9l3.7,3.7l-3.7,3.7l-3.7,-3.7z"/>
<path d="M275.7,260.6l3.7,3.7l-3.7,3.7l-3.7,-3.7z"/>
<path d="M279.3,261.2l3.7,3.7l-3.7,3.7l-3.7,-3.7z"/>
<path d="M284.2,261.0l3.7,3.7l-3.7,3.7l-3.7,-3.7z"/>
<path d="M287.7,260.9l3.7,3.7l-3.7,3.7l-3.7,-3.7z"/>
<path d="M292.3,260.4l3.7,3.7l-3.7,3.7l-3.7,-3.7z"/>
<path d="M277.4,264.0l3.7,3.7l-3.7,3.7l-3.7,-3.7z"/>
<path d="M281.4,264.9l3.7,3.7l-3.7,3.7l-3.7,-3.7z"/>
<path d="M285.3,264.8l3.7,3.7l-3.7,3.7l-3.7,-3.7z"/>
<path d="M289.4,264.4l3.7,3.7l-3.7,3.7l-3.7,-3.7z"/>
<path d="M279.1,268.1l3.7,3.7l-3.7,3.7l-3.7,-3.7z"/>
<path d="M283.6,268.0l3.7,3.7l-3.7,3.7l-3.7,-3.7z"/>
<path d="M287.4,268.1l3.7,3.7l-3.7,3.7l-3.7,-3.7z"/>
<path d="M292.5,268.2l3.7,3.7l-3.7,3.7l-3.7,-3.7z"/>
<path d="M285.7,271.1l3.7,3.7l-3.7,3.7l-3.7,-3.7z"/>
<path d="M289.7,271.8l3.7,3.7l-3.7,3.7l-3.7,-3.7z"/>
<path d="M299.1,187.9l3.7,3.7l-3.7,3.7l-3.7,-3.7z"/>
<path d="M290.9,192.5l3.7,3.7l-3.7,3.7l-3.7,-3.7z"/>
<path d="M277.7,193.8l3.7,3.7l-3.7,3.7l-3.7,-3.7z"/>
<path d="M276.8,207.5l3.7,3.7l-3.7,3.7l-3.7,-3.7z"/>
<path d="M282.7,216.1l3.7,3.7l-3.7,3.7l-3.7,-3.7z"/>
<path d="M281.2,157.9l3.7,3.7l-3.7,3.7l-3.7,-3.7z"/>
<path d="M314.0,156.0l3.7,3.7l-3.7,3.7l-3.7,-3.7z"/>
<path d="M320.2,161.6l3.7,3.7l-3.7,3.7l-3.7,-3.7z"/>
<path d="M332.6,134.8l3.7,3.7l-3.7,3.7l-3.7,-3.7z"/>
<path d="M342.6,129.9l3.7,3.7l-3.7,3.7l-3.7,-3.7z"/>
<path d="M309.7,167.5l3.7,3.7l-3.7,3.7l-3.7,-3.7z"/>
<path d="M306.2,171.6l3.7,3.7l-3.7,3.7l-3.7,-3.7z"/>
<path d="M319.7,171.2l3.7,3.7l-3.7,3.7l-3.7,-3.7z"/>
<path d="M321.0,176.3l3.7,3.7l-3.7,3.7l-3.7,-3.7z"/>
<path d="M331.4,100.7l3.7,3.7l-3.7,3.7l-3.7,-3.7z"/>
<path d="M278.1,194.0l3.7,3.7l-3.7,3.7l-3.7,-3.7z"/>
<path d="M290.7,192.6l3.7,3.7l-3.7,3.7l-3.7,-3.7z"/>
<path d="M298.6,187.9l3.7,3.7l-3.7,3.7l-3.7,-3.7z"/>
<path d="M297.7,197.2l3.7,3.7l-3.7,3.7l-3.7,-3.7z"/>
<path d="M277.0,207.5l3.7,3.7l-3.7,3.7l-3.7,-3.7z"/>
<path d="M308.7,205.6l3.7,3.7l-3.7,3.7l-3.7,-3.7z"/>
<path d="M306.9,224.2l3.7,3.7l-3.7,3.7l-3.7,-3.7z"/>
<path d="M308.7,239.1l3.7,3.7l-3.7,3.7l-3.7,-3.7z"/>
<path d="M309.7,241.0l3.7,3.7l-3.7,3.7l-3.7,-3.7z"/>
<path d="M305.0,199.3l3.7,3.7l-3.7,3.7l-3.7,-3.7z"/>
<path d="M310.0,197.3l3.7,3.7l-3.7,3.7l-3.7,-3.7z"/>
<path d="M244.8,259.1l3.7,3.7l-3.7,3.7l-3.7,-3.7z"/>
<path d="M266.3,291.1l3.7,3.7l-3.7,3.7l-3.7,-3.7z"/>
<path d="M271.4,289.7l3.7,3.7l-3.7,3.7l-3.7,-3.7z"/>
<path d="M312.7,192.6l3.7,3.7l-3.7,3.7l-3.7,-3.7z"/>
<path d="M316.4,186.1l3.7,3.7l-3.7,3.7l-3.7,-3.7z"/>
<path d="M310.8,185.1l3.7,3.7l-3.7,3.7l-3.7,-3.7z"/>
</g>
<g fill="#4a7fc4">
<circle cx="288.0" cy="221.6" r="2.6"/>
<circle cx="283.8" cy="243.4" r="2.6"/>
<circle cx="299.0" cy="244.0" r="2.6"/>
</g>
<path d="M316.5,125 C300,148 286,168 277,189 C270,206 266,225 263.5,250 L260.2,304" fill="none" stroke="#d8262e" stroke-width="1.5" stroke-dasharray="3.5,3"/>
<g fill="#d8262e" stroke="#9a1a20" stroke-width="0.5">
<path d="M236.10,299.00 L238.90,299.00 L238.90,302.10 L242.00,302.10 L242.00,304.90 L238.90,304.90 L238.90,308.00 L236.10,308.00 L236.10,304.90 L233.00,304.90 L233.00,302.10 L236.10,302.10Z"/>
<path d="M297.80,163.90 L300.60,163.90 L300.60,167.00 L303.70,167.00 L303.70,169.80 L300.60,169.80 L300.60,172.90 L297.80,172.90 L297.80,169.80 L294.70,169.80 L294.70,167.00 L297.80,167.00Z"/>
<path d="M250.20,212.10 L253.00,212.10 L253.00,215.20 L256.10,215.20 L256.10,218.00 L253.00,218.00 L253.00,221.10 L250.20,221.10 L250.20,218.00 L247.10,218.00 L247.10,215.20 L250.20,215.20Z"/>
<path d="M256.10,208.90 L258.90,208.90 L258.90,212.00 L262.00,212.00 L262.00,214.80 L258.90,214.80 L258.90,217.90 L256.10,217.90 L256.10,214.80 L253.00,214.80 L253.00,212.00 L256.10,212.00Z"/>
<path d="M236.90,275.60 L239.70,275.60 L239.70,278.70 L242.80,278.70 L242.80,281.50 L239.70,281.50 L239.70,284.60 L236.90,284.60 L236.90,281.50 L233.80,281.50 L233.80,278.70 L236.90,278.70Z"/>
<path d="M247.10,275.20 L249.90,275.20 L249.90,278.30 L253.00,278.30 L253.00,281.10 L249.90,281.10 L249.90,284.20 L247.10,284.20 L247.10,281.10 L244.00,281.10 L244.00,278.30 L247.10,278.30Z"/>
<path d="M246.20,280.30 L249.00,280.30 L249.00,283.40 L252.10,283.40 L252.10,286.20 L249.00,286.20 L249.00,289.30 L246.20,289.30 L246.20,286.20 L243.10,286.20 L243.10,283.40 L246.20,283.40Z"/>
<path d="M241.00,285.80 L243.80,285.80 L243.80,288.90 L246.90,288.90 L246.90,291.70 L243.80,291.70 L243.80,294.80 L241.00,294.80 L241.00,291.70 L237.90,291.70 L237.90,288.90 L241.00,288.90Z"/>
<path d="M226.60,282.60 L229.40,282.60 L229.40,285.70 L232.50,285.70 L232.50,288.50 L229.40,288.50 L229.40,291.60 L226.60,291.60 L226.60,288.50 L223.50,288.50 L223.50,285.70 L226.60,285.70Z"/>
<path d="M221.00,284.00 L223.80,284.00 L223.80,287.10 L226.90,287.10 L226.90,289.90 L223.80,289.90 L223.80,293.00 L221.00,293.00 L221.00,289.90 L217.90,289.90 L217.90,287.10 L221.00,287.10Z"/>
<path d="M214.10,288.20 L216.90,288.20 L216.90,291.30 L220.00,291.30 L220.00,294.10 L216.90,294.10 L216.90,297.20 L214.10,297.20 L214.10,294.10 L211.00,294.10 L211.00,291.30 L214.10,291.30Z"/>
<path d="M205.20,292.50 L208.00,292.50 L208.00,295.60 L211.10,295.60 L211.10,298.40 L208.00,298.40 L208.00,301.50 L205.20,301.50 L205.20,298.40 L202.10,298.40 L202.10,295.60 L205.20,295.60Z"/>
<path d="M236.60,296.50 L239.40,296.50 L239.40,299.60 L242.50,299.60 L242.50,302.40 L239.40,302.40 L239.40,305.50 L236.60,305.50 L236.60,302.40 L233.50,302.40 L233.50,299.60 L236.60,299.60Z"/>
<path d="M258.40,282.10 L261.20,282.10 L261.20,285.20 L264.30,285.20 L264.30,288.00 L261.20,288.00 L261.20,291.10 L258.40,291.10 L258.40,288.00 L255.30,288.00 L255.30,285.20 L258.40,285.20Z"/>
<path d="M217.70,303.80 L220.50,303.80 L220.50,306.90 L223.60,306.90 L223.60,309.70 L220.50,309.70 L220.50,312.80 L217.70,312.80 L217.70,309.70 L214.60,309.70 L214.60,306.90 L217.70,306.90Z"/>
<path d="M231.50,303.80 L234.30,303.80 L234.30,306.90 L237.40,306.90 L237.40,309.70 L234.30,309.70 L234.30,312.80 L231.50,312.80 L231.50,309.70 L228.40,309.70 L228.40,306.90 L231.50,306.90Z"/>
</g>
<g fill="#fff" stroke="#333" stroke-width="0.6">
<path d="M300.75,139.20 L303.25,139.20 L303.25,142.95 L307.00,142.95 L307.00,145.45 L303.25,145.45 L303.25,149.20 L300.75,149.20 L300.75,145.45 L297.00,145.45 L297.00,142.95 L300.75,142.95Z"/>
<path d="M267.95,201.40 L270.45,201.40 L270.45,205.15 L274.20,205.15 L274.20,207.65 L270.45,207.65 L270.45,211.40 L267.95,211.40 L267.95,207.65 L264.20,207.65 L264.20,205.15 L267.95,205.15Z"/>
<path d="M273.45,251.20 L275.95,251.20 L275.95,254.95 L279.70,254.95 L279.70,257.45 L275.95,257.45 L275.95,261.20 L273.45,261.20 L273.45,257.45 L269.70,257.45 L269.70,254.95 L273.45,254.95Z"/>
<path d="M265.05,257.20 L267.55,257.20 L267.55,260.95 L271.30,260.95 L271.30,263.45 L267.55,263.45 L267.55,267.20 L265.05,267.20 L265.05,263.45 L261.30,263.45 L261.30,260.95 L265.05,260.95Z"/>
<path d="M263.15,274.00 L265.65,274.00 L265.65,277.75 L269.40,277.75 L269.40,280.25 L265.65,280.25 L265.65,284.00 L263.15,284.00 L263.15,280.25 L259.40,280.25 L259.40,277.75 L263.15,277.75Z"/>
</g>
<g fill="none" stroke="#4a4a4a" stroke-width="1.8" stroke-linecap="round">
<path d="M338.5,152.5 C338.9,152.2 340.0,151.4 341.0,150.4 C342.0,149.4 342.5,148.6 344.6,146.7 C346.7,144.8 350.2,141.5 353.4,139.1 C356.6,136.7 360.2,134.1 363.6,132.1 C367.0,130.1 369.7,128.4 373.8,127.0 C377.9,125.5 383.1,124.2 388.4,123.4 C393.7,122.6 400.0,121.9 405.5,121.9 C411.0,122.0 416.7,122.9 421.3,123.7 C425.9,124.5 428.7,125.4 433.1,126.7 C437.5,128.0 443.0,129.8 447.6,131.3 C452.2,132.8 456.3,134.4 460.7,135.9 C465.1,137.4 469.8,138.9 473.8,140.2 C477.9,141.5 482.3,142.8 485.0,143.8 C487.7,144.8 489.2,145.6 490.0,146.0"/>
<path d="M338.5,197.0 C339.2,196.2 341.4,194.0 343.0,192.5 C344.6,191.0 346.4,189.4 348.4,187.8 C350.4,186.2 352.9,184.6 355.1,183.1 C357.3,181.6 359.6,180.3 361.8,179.1 C364.0,177.9 366.3,176.7 368.5,175.7 C370.7,174.7 372.9,173.8 375.2,173.0 C377.4,172.2 379.7,171.6 382.0,171.0 C384.3,170.4 386.2,169.9 388.8,169.6 C391.4,169.3 394.6,169.0 397.5,169.0 C400.4,169.0 403.6,169.2 406.3,169.5 C409.0,169.8 410.8,170.2 413.7,170.9 C416.6,171.7 420.7,173.0 423.8,174.0 C426.9,175.0 429.8,176.2 432.5,177.1 C435.2,178.0 436.2,178.0 440.0,179.3 C443.8,180.6 449.2,183.1 455.0,185.1 C460.8,187.1 468.8,189.4 475.0,191.2 C481.2,193.0 486.4,194.1 492.5,195.8 C498.6,197.5 506.7,200.1 511.8,201.5 C516.9,202.9 519.3,203.5 523.2,204.5 C527.1,205.5 530.5,206.2 535.0,207.3 C539.5,208.4 545.4,209.8 550.1,210.8 C554.8,211.8 560.9,213.0 563.0,213.4"/>
<path d="M338.8,222.0 C339.5,221.2 341.4,219.0 343.0,217.3 C344.6,215.6 346.4,213.8 348.4,212.0 C350.4,210.2 352.9,208.4 355.1,206.6 C357.3,204.8 359.6,202.9 361.8,201.2 C364.0,199.5 366.3,197.9 368.5,196.5 C370.7,195.1 372.9,193.7 375.2,192.5 C377.4,191.3 379.7,190.1 382.0,189.1 C384.3,188.1 386.2,187.1 388.8,186.3 C391.4,185.5 394.6,184.8 397.5,184.5 C400.4,184.2 403.6,184.2 406.3,184.3 C409.0,184.4 410.8,184.6 413.7,184.8 C416.6,185.1 420.7,185.4 423.8,185.8 C426.9,186.2 429.8,186.7 432.5,187.1 C435.2,187.5 436.2,187.7 440.0,188.5 C443.8,189.3 449.2,190.4 455.0,191.7 C460.8,193.0 468.8,194.7 475.0,196.2 C481.2,197.7 486.4,199.3 492.5,200.6 C498.6,201.9 506.7,203.1 511.8,204.1 C516.9,205.1 519.3,205.8 523.2,206.7 C527.1,207.6 530.5,208.3 535.0,209.3 C539.5,210.3 545.4,211.9 550.1,212.7 C554.8,213.5 560.9,213.9 563.0,214.2"/>
</g>
<g stroke="#666" stroke-width="1">
<line x1="337.5" y1="199.0" x2="337.5" y2="224.0"/>
<line x1="348.4" y1="187.8" x2="348.4" y2="212.0"/>
<line x1="359.5" y1="180.0" x2="359.5" y2="202.5"/>
<line x1="372.6" y1="174.0" x2="372.6" y2="194.0"/>
<line x1="389.5" y1="169.6" x2="389.5" y2="186.3"/>
<line x1="413.7" y1="170.9" x2="413.7" y2="184.8"/>
<line x1="461.2" y1="187.2" x2="461.2" y2="192.8"/>
</g>
<g stroke="#444" stroke-width="1">
<line x1="342.4" y1="143.1" x2="347.5" y2="150.4"/>
<line x1="352.6" y1="135.8" x2="356.3" y2="143.5"/>
<line x1="361.4" y1="128.5" x2="365.8" y2="136.5"/>
<line x1="372.3" y1="124.1" x2="376.0" y2="131.4"/>
<line x1="387.7" y1="119.0" x2="389.6" y2="127.7"/>
<line x1="405.5" y1="117.5" x2="405.5" y2="126.2"/>
<line x1="434.2" y1="122.7" x2="432.2" y2="131.9"/>
</g>
<g fill="#fff" stroke="#444" stroke-width="1.6" stroke-linejoin="miter">
<path d="M337.30,148.90 L338.71,152.16 L342.25,152.49 L339.58,154.84 L340.36,158.31 L337.30,156.50 L334.24,158.31 L335.02,154.84 L332.35,152.49 L335.89,152.16Z"/>
<path d="M337.30,194.00 L338.71,197.26 L342.25,197.59 L339.58,199.94 L340.36,203.41 L337.30,201.60 L334.24,203.41 L335.02,199.94 L332.35,197.59 L335.89,197.26Z"/>
<path d="M337.60,219.50 L339.01,222.76 L342.55,223.09 L339.88,225.44 L340.66,228.91 L337.60,227.10 L334.54,228.91 L335.32,225.44 L332.65,223.09 L336.19,222.76Z"/>
</g>
<g font-family='"Liberation Sans", sans-serif' font-size="8.3" fill="#555">
<text transform="translate(369.5,121.8) rotate(-30)" font-style="italic" font-size="10">T</text>
<text transform="translate(375.4,122.9) rotate(-28)" font-size="6.5">P</text>
<text transform="translate(379.4,117.4) rotate(-24)">=</text>
<text transform="translate(385.9,114.4) rotate(-1)">1,560</text>
<text transform="translate(409.5,115.4) rotate(3)">°C</text>
<text transform="translate(381.2,205.2) rotate(-22)" font-style="italic" font-size="10">T</text>
<text transform="translate(386.6,204.4) rotate(-18)" font-size="6.5">P</text>
<text transform="translate(392.3,202.6) rotate(-12)">=</text>
<text transform="translate(399.2,199.8) rotate(0)">1,350</text>
<text transform="translate(423.5,200.2) rotate(1)">°C</text>
</g>
<text transform="translate(506.3,68.8) rotate(-27.5)" font-family='"Liberation Sans", sans-serif' font-size="13.2" fill="#333">Kimberlites</text>
<g stroke="#111" stroke-width="1.4">
<line x1="480.9" y1="126.3" x2="480.9" y2="145.2"/>
<line x1="492.7" y1="136.5" x2="492.7" y2="157.7"/>
<line x1="527.4" y1="146.5" x2="527.4" y2="161.4"/>
<line x1="552.9" y1="172.1" x2="552.9" y2="188.7"/>
<line x1="559.1" y1="198.0" x2="559.1" y2="221.2"/>
<line x1="506.6" y1="179.2" x2="506.6" y2="218.4"/>
</g>
<path d="M480.9,129.3 L486.9,135.3 L480.9,141.3 L474.9,135.3 Z" fill="#3f57a7" stroke="none" stroke-width="0.7"/>
<path d="M492.7,140.6 L498.7,146.6 L492.7,152.6 L486.7,146.6 Z" fill="#15964a" stroke="none" stroke-width="0.7"/>
<path d="M527.4,147.4 L533.4,153.4 L527.4,159.4 L521.4,153.4 Z" fill="#3f57a7" stroke="none" stroke-width="0.7"/>
<path d="M552.9,174.2 L558.9,180.2 L552.9,186.2 L546.9,180.2 Z" fill="#f2a6cb" stroke="#9a8290" stroke-width="0.7"/>
<path d="M552.5,191.7 L558.5,197.7 L552.5,203.7 L546.5,197.7 Z" fill="#f2a6cb" stroke="#9a8290" stroke-width="0.7"/>
<path d="M545.5,205.5 L551.5,211.5 L545.5,217.5 L539.5,211.5 Z" fill="#f2a6cb" stroke="#9a8290" stroke-width="0.7"/>
<path d="M559.1,202.5 L565.1,208.5 L559.1,214.5 L553.1,208.5 Z" fill="#15964a" stroke="none" stroke-width="0.7"/>
<path d="M567.7,208.6 L573.7,214.6 L567.7,220.6 L561.7,214.6 Z" fill="#15964a" stroke="none" stroke-width="0.7"/>
<path d="M506.6,191.4 L512.6,197.4 L506.6,203.4 L500.6,197.4 Z" fill="#3f57a7" stroke="none" stroke-width="0.7"/>
<g font-family='"Liberation Sans", sans-serif' font-size="8.3" fill="#1a1a1a">
<text x="479.4" y="122.0">1,630 °C</text>
<text x="499.1" y="140.1">1,630 °C</text>
<text x="537.4" y="154.1">1,480 °C</text>
<text x="557.6" y="172.4">1,580 °C</text>
<text x="559.8" y="193.5">1,400 °C</text>
<text x="568.4" y="207.8">1,480 °C</text>
<text x="535.4" y="228.7">1,400 °C</text>
<text x="574.2" y="228.7">1,420 °C</text>
<text x="479.5" y="228.6">1,420 °C</text>
</g>
<path d="M522.5,194.3 L519.6,216 Q518.8,221 516.8,219.8 Q515.6,219.3 515.2,222.6 Q514.4,220.8 513.6,224.2 L509.4,252.3" fill="none" stroke="#444" stroke-width="0.7"/>
<text x="495.7" y="266.9" font-family='"Liberation Sans", sans-serif' fill="#333" font-size="13.45">Field of primary</text>
<text x="495.7" y="282.4" font-family='"Liberation Sans", sans-serif' fill="#333" font-size="13.45">redox melts</text>
<text x="222.7" y="67.7" font-family='"Liberation Sans", sans-serif' fill="#333" font-size="13.4">Hawaii shield</text>
<line x1="300.4" y1="73.6" x2="330" y2="103" stroke="#f7a04a" stroke-width="0.9"/>
<text x="171.6" y="232.6" text-anchor="end" font-family='"Liberation Sans", sans-serif' font-size="13.2" fill="#333">Hawaii</text>
<text x="171.6" y="248.3" text-anchor="end" font-family='"Liberation Sans", sans-serif' font-size="13.2" fill="#333">rejuvenated</text>
<line x1="175.6" y1="235.2" x2="246.7" y2="253.5" stroke="#4a7fc1" stroke-width="0.8"/>
<text x="357.1" y="278.6" font-family='"Liberation Sans", sans-serif' font-size="13.2" fill="#333">OIB</text>
<line x1="327.6" y1="260.7" x2="356.2" y2="269.6" stroke="#8fcb8a" stroke-width="0.9"/>
<text x="142.3" y="366.1" font-family='"Liberation Sans", sans-serif' font-size="13.2" fill="#333">MORB</text>
<line x1="184.3" y1="355.9" x2="210.6" y2="342.8" stroke="#111" stroke-width="0.9"/>
<text transform="translate(269.6,186.8) rotate(-59)" font-family='"Liberation Sans", sans-serif' font-size="13.6" fill="#333">cpx</text>
<text x="486.6" y="349.3" font-family='"Liberation Sans", sans-serif' font-size="13.3" fill="#333">Experimental melts at 7 GPa</text>
<text x="486.6" y="365.4" font-family='"Liberation Sans", sans-serif' font-size="13.3" fill="#333">starting from</text>
<path d="M493.1,374.1 L499.3,380.3 L493.1,386.5 L486.9,380.3 Z" fill="#f2a6cb" stroke="#9a8290" stroke-width="0.7"/>
<text x="506" y="384.7" font-family='"Liberation Sans", sans-serif' font-size="13.3" fill="#333">Kimberlite</text>
<path d="M493.1,391.2 L499.3,397.4 L493.1,403.6 L486.9,397.4 Z" fill="#15964a" stroke="none" stroke-width="0.7"/>
<text x="506" y="401.8" font-family='"Liberation Sans", sans-serif' font-size="13.3" fill="#333">OIB</text>
<path d="M493.1,408.1 L499.3,414.3 L493.1,420.5 L486.9,414.3 Z" fill="#3f57a7" stroke="none" stroke-width="0.7"/>
<text x="506" y="418.7" font-family='"Liberation Sans", sans-serif' font-size="13.3" fill="#333">MORB</text>
</svg>
</body></html>
